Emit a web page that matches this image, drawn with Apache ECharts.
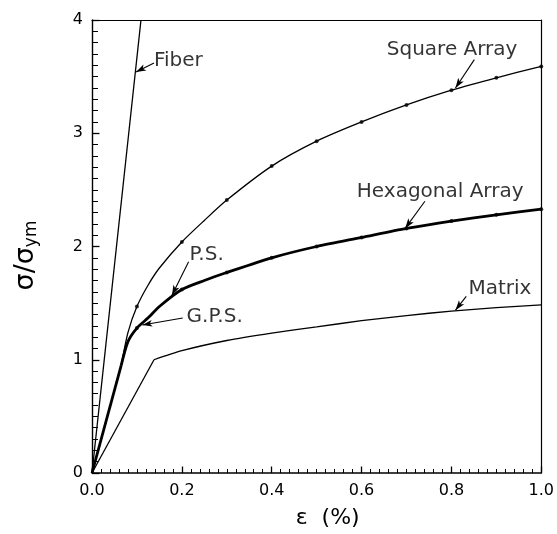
<!DOCTYPE html>
<html>
<head>
<meta charset="utf-8">
<script src="https://cdn.jsdelivr.net/npm/echarts@6/dist/echarts.min.js"></script>
<style>
  html, body { margin: 0; padding: 0; background: #fff; }
  #chart { width: 557px; height: 534px; }
</style>
</head>
<body>
<div id="chart"></div>
<script>
// Stress-strain response: fiber, matrix and two unit-cell arrangements
const xTicks = [0, 0.2, 0.4, 0.6, 0.8, 1.0];
const yTicks = [0, 1, 2, 3, 4];
const xMinorStep = 0.02;
const yMinorStep = 0.1;

const fiberStrain = [0, 0.109];
const fiberStress = [0, 4.0];

// elastic branch up to yield, then the hardening branch
const matrixStrain = [0, 0.138, 0.2, 0.3, 0.4, 0.5, 0.6, 0.7, 0.8, 0.9, 1.0];
const matrixStress = [0, 1.0, 1.08, 1.17, 1.235, 1.29, 1.345, 1.39, 1.43, 1.46, 1.485];

const squareStrain = [0, 0.065, 0.08, 0.1, 0.125, 0.15, 0.2, 0.25, 0.3, 0.4, 0.5, 0.6, 0.7, 0.8, 0.9, 1.0];
const squareStress = [0, 0.95, 1.24, 1.47, 1.66, 1.81, 2.04, 2.23, 2.41, 2.71, 2.93, 3.10, 3.25, 3.38, 3.49, 3.59];

const hexStrain = [0, 0.065, 0.08, 0.1, 0.125, 0.15, 0.2, 0.25, 0.3, 0.4, 0.5, 0.6, 0.7, 0.8, 0.9, 1.0];
const hexStress = [0, 0.95, 1.16, 1.28, 1.37, 1.47, 1.62, 1.70, 1.77, 1.90, 2.0, 2.08, 2.16, 2.225, 2.28, 2.33];

// Callout text, its anchor, and the arrow from tail to tip (data units)
const noteText  = ['Fiber', 'Square Array', 'Hexagonal Array', 'Matrix', 'P.S.', 'G.P.S.'];
const noteAt    = [[0.138, 3.64], [0.8015, 3.74], [0.775, 2.48], [0.908, 1.63], [0.255, 1.925], [0.273, 1.377]];
const noteAlign = ['left', 'center', 'center', 'center', 'center', 'center'];
const arrowTail = [[0.138, 3.62], [0.851, 3.65], [0.741, 2.40], [0.833, 1.56], [0.215, 1.865], [0.202, 1.368]];
const arrowTip  = [[0.098, 3.54], [0.809, 3.40], [0.697, 2.16], [0.809, 1.438], [0.178, 1.569], [0.112, 1.307]];

const FONT = 'DejaVu Sans';
const pairs = (xs, ys) => xs.map((x, i) => [x, ys[i]]);
const onTenths = (xs, ys) => pairs(xs, ys).filter(p => p[0] > 0 && Math.abs(p[0] * 10 - Math.round(p[0] * 10)) < 1e-9);

// A curve is drawn as its straight elastic part (first two points)
// followed by a smoothed part from the knee onward.
function curve(name, xs, ys, width) {
  const pts = pairs(xs, ys);
  const base = {
    type: 'line', showSymbol: false, symbol: 'none',
    lineStyle: { color: '#000', width }, silent: true, z: 3
  };
  return [
    Object.assign({}, base, { name: name + ' elastic', data: pts.slice(0, 2), smooth: false }),
    Object.assign({}, base, { name, data: pts.slice(1), smooth: 0.25 })
  ];
}

// Axis drawn on a given side with optional inward ticks and no labels
function plainAxis(position, min, max, step, tickLen, lineOn) {
  return {
    type: 'value', position, min, max, interval: step,
    axisLine: { show: lineOn, onZero: false, lineStyle: { color: '#000', width: 1.2 } },
    axisTick: { show: tickLen > 0, inside: true, length: tickLen, lineStyle: { color: '#000', width: 1 } },
    axisLabel: { show: false },
    splitLine: { show: false }
  };
}

const chart = echarts.init(document.getElementById('chart'), null, { renderer: 'canvas' });
chart.setOption({
  animation: false,
  backgroundColor: '#fff',
  grid: { left: 92, right: 9, top: 20, bottom: 56, containLabel: false },
  xAxis: [{
    type: 'value', position: 'bottom', min: xTicks[0], max: xTicks[xTicks.length - 1], interval: 0.2,
    name: 'ε  (%)', nameLocation: 'middle', nameGap: 34,
    nameTextStyle: { fontFamily: FONT, fontSize: 22, color: '#000', padding: [0, 0, 0, 22] },
    axisLine: { show: true, onZero: false, lineStyle: { color: '#000', width: 1.6 } },
    axisTick: { show: true, inside: true, length: 6.5, lineStyle: { color: '#000', width: 1.3 } },
    axisLabel: { show: true, fontFamily: FONT, fontSize: 16, color: '#000', margin: 10, formatter: v => v.toFixed(1) },
    splitLine: { show: false }
  },
    plainAxis('bottom', xTicks[0], xTicks[xTicks.length - 1], xMinorStep, 4, false),
    plainAxis('top', xTicks[0], xTicks[xTicks.length - 1], 0.2, 0, true)
  ],
  yAxis: [{
    type: 'value', position: 'left', min: yTicks[0], max: yTicks[yTicks.length - 1], interval: 1,
    name: '{s|σ/σ}{sub|ym}', nameLocation: 'middle', nameGap: 52, nameRotate: 90,
    nameTextStyle: {
      color: '#000', padding: [0, 18, 0, 0],
      rich: {
        s: { fontFamily: FONT, fontSize: 27, color: '#000' },
        sub: { fontFamily: FONT, fontSize: 17, color: '#000', verticalAlign: 'bottom', padding: [12, 0, 0, 0] }
      }
    },
    axisLine: { show: true, onZero: false, lineStyle: { color: '#000', width: 1.4 } },
    axisTick: { show: true, inside: true, length: 7.5, lineStyle: { color: '#000', width: 1.3 } },
    axisLabel: { show: true, fontFamily: FONT, fontSize: 16, color: '#000', margin: 9 },
    splitLine: { show: false }
  },
    plainAxis('left', yTicks[0], yTicks[yTicks.length - 1], yMinorStep, 6, false),
    plainAxis('right', yTicks[0], yTicks[yTicks.length - 1], 1, 0, true)
  ],
  series: [
    ...curve('Fiber', fiberStrain, fiberStress, 1.3),
    ...curve('Matrix', matrixStrain, matrixStress, 1.3),
    ...curve('Square Array', squareStrain, squareStress, 1.3),
    ...curve('Hexagonal Array', hexStrain, hexStress, 2.8),
    {
      name: 'points', type: 'scatter', silent: true, z: 4,
      symbol: 'circle', symbolSize: 4, itemStyle: { color: '#000' },
      data: onTenths(squareStrain, squareStress).concat(onTenths(hexStrain, hexStress))
    },
    {
      name: 'notes', type: 'scatter', silent: true, z: 5,
      symbolSize: 0,
      data: noteText.map((t, i) => ({
        name: t, value: noteAt[i],
        label: { show: true, position: 'inside', align: noteAlign[i], verticalAlign: 'middle',
                 formatter: '{b}', fontFamily: FONT, fontSize: 20, color: '#000' }
      })),
      markLine: {
        silent: true, animation: false,
        symbolSize: [5, 10],
        label: { show: false },
        lineStyle: { color: '#000', width: 1.1, type: 'solid' },
        data: arrowTail.map((p, i) => [
          { coord: p, symbol: 'none' },
          { coord: arrowTip[i], symbol: 'arrow' }
        ])
      }
    }
  ]
});
</script>
</body>
</html>
